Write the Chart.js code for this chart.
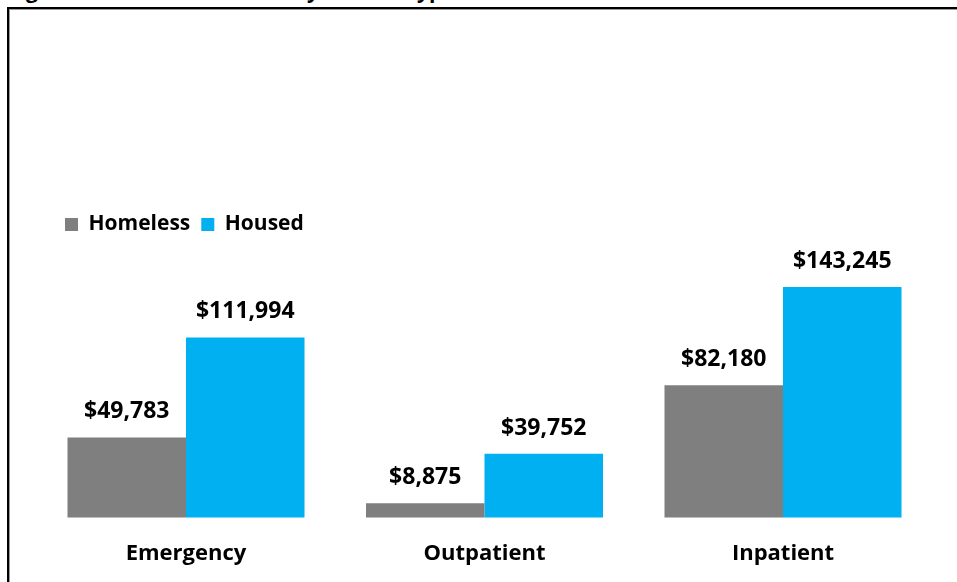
<!DOCTYPE html>
<html>
<head>
<meta charset="utf-8">
<script src="https://cdn.jsdelivr.net/npm/chart.js@4.4.0/dist/chart.umd.min.js"></script>
<style>
    html, body { margin: 0; padding: 0; background: #fff; overflow: hidden; }
    body { width: 957px; height: 582px; position: relative; font-family: "Open Sans", sans-serif; }
    #titre { position: absolute; left: 8px; top: -24px; font-weight: bold; font-size: 21px; white-space: nowrap; color: #000; }
    #cadre { position: absolute; left: 7px; top: 7px; width: 1000px; height: 700px; border-left: 2px solid #000; border-top: 2px solid #000; box-shadow: inset 1px 1px 0 #999; }
    #zone { position: absolute; left: 0; top: 0; width: 957px; height: 607px; }
</style>
</head>
<body>
<div id="titre">Figure 2: Health Care Costs by Service Type</div>
<div id="cadre"></div>
<div id="zone"><canvas id="coutsChart" width="957" height="607"></canvas></div>
<script>
// Données du graphique
const categories = ['Emergency', 'Outpatient', 'Inpatient'];
const homeless = [49783, 8875, 82180];
const housed = [111994, 39752, 143245];
const seriesNames = ['Homeless', 'Housed'];
const yMax = 169400;

const police = { family: 'Open Sans', weight: 'bold', size: 22 };
const policeLegende = { family: 'Open Sans', weight: 'bold', size: 21 };

// Étiquettes de valeur au-dessus des barres
const valueLabels = {
    id: 'valueLabels',
    afterDatasetsDraw(chart) {
        const ctx = chart.ctx;
        ctx.save();
        ctx.font = 'bold 23px "Open Sans"';
        ctx.fillStyle = '#000';
        ctx.textAlign = 'center';
        ctx.textBaseline = 'alphabetic';
        chart.data.datasets.forEach((ds, i) => {
            chart.getDatasetMeta(i).data.forEach((bar, j) => {
                const txt = '$' + new Intl.NumberFormat('en-US').format(ds.data[j]);
                ctx.fillText(txt, bar.x, bar.y - 19);
            });
        });
        ctx.restore();
    }
};

document.addEventListener('DOMContentLoaded', function() {
    const ctx = document.getElementById('coutsChart').getContext('2d');
    new Chart(ctx, {
        type: 'bar',
        data: {
            labels: categories,
            datasets: [{
                label: seriesNames[0],
                data: homeless,
                backgroundColor: '#7f7f7f',
                clip: false
            }, {
                label: seriesNames[1],
                data: housed,
                backgroundColor: '#00b0f0',
                clip: false
            }]
        },
        options: {
            responsive: false,
            animation: false,
            categoryPercentage: 0.794,
            barPercentage: 1,
            layout: { padding: { left: 54, right: 0, top: 203, bottom: 17 } },
            plugins: {
                tooltip: { enabled: false },
                legend: {
                    position: 'top',
                    align: 'start',
                    labels: {
                        boxWidth: 13,
                        boxHeight: 13,
                        padding: 11,
                        color: '#000',
                        font: policeLegende
                    }
                }
            },
            scales: {
                x: {
                    offset: false,
                    grid: { display: false, drawTicks: false },
                    border: { display: false },
                    ticks: { color: '#000', font: police, padding: 23, maxRotation: 0, autoSkip: false }
                },
                y: {
                    min: 0,
                    max: yMax,
                    grid: { display: false, drawTicks: false },
                    border: { display: false },
                    ticks: { display: false },
                    afterFit: function(scale) { scale.width = 132; }
                },
                y2: {
                    position: 'right',
                    grid: { display: false, drawTicks: false },
                    border: { display: false },
                    ticks: { display: false },
                    afterFit: function(scale) { scale.width = 174; }
                }
            }
        },
        plugins: [valueLabels]
    });
});
</script>
</body>
</html>
